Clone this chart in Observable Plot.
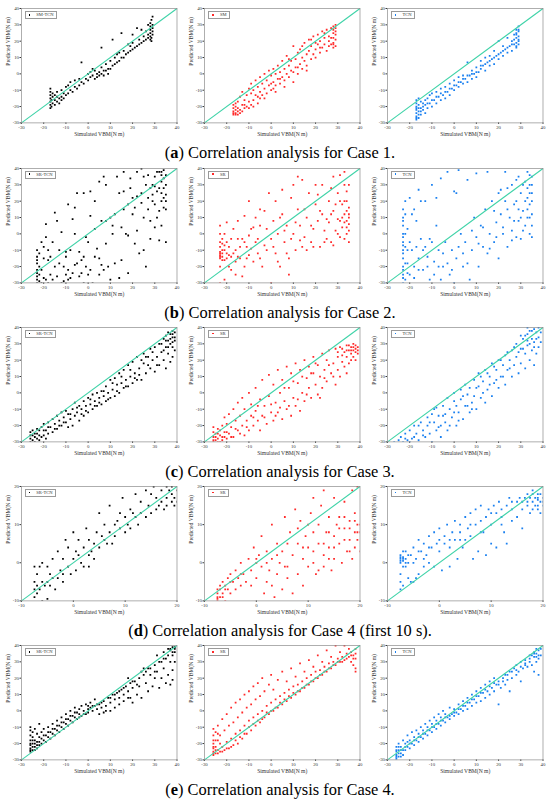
<!DOCTYPE html>
<html><head><meta charset="utf-8">
<script src="https://cdn.jsdelivr.net/npm/d3@7"></script>
<script src="https://cdn.jsdelivr.net/npm/@observablehq/plot@0.6"></script>
<style>
html,body{margin:0;padding:0;background:#fff;}
#root{position:relative;width:550px;height:803px;overflow:hidden;}
.panel{position:absolute;}
.legend{position:absolute;border:0.6px solid #9a9a9a;height:6px;font-size:4.6px;font-family:"Liberation Serif","Times New Roman","DejaVu Serif",serif;line-height:6px;padding:0 2px 0 3px;white-space:nowrap;background:#fff;color:#333;}
.legend i{display:inline-block;width:1.6px;height:1.6px;margin-right:6px;vertical-align:middle;position:relative;top:-0.5px;}
.cap{position:absolute;left:5px;width:550px;text-align:center;font-size:16.4px;font-family:"Liberation Serif","Times New Roman","DejaVu Serif",serif;color:#000;line-height:18px;}
</style></head>
<body><div id="root"></div>
<script>
// ---- axis settings ----
const domainMain = [-30, 40];
const domainD = [-10, 20];
const ticksMain = [-30, -20, -10, 0, 10, 20, 30, 40];
const ticksD = [-10, 0, 10, 20];
const xTitle = "Simulated VBM(N m)";
const yTitle = "Predicted VBM(N m)";
const captions = [
  ["a", "Correlation analysis for Case 1."],
  ["b", "Correlation analysis for Case 2."],
  ["c", "Correlation analysis for Case 3."],
  ["d", "Correlation analysis for Case 4 (first 10 s)."],
  ["e", "Correlation analysis for Case 4."]
];
const legendRows = [
  ["SM-TCN", "SM", "TCN"],
  ["SR-TCN", "SR", "TCN"],
  ["SR-TCN", "SR", "TCN"],
  ["SR-TCN", "SR", "TCN"],
  ["SR-TCN", "SR", "TCN"]
];

// ---- data: [simulated, predicted] ----
const a1 = [[-17,-21],[-17,-19],[-17,-17],[-17,-15],[-17,-13],[-17,-11],[-17,-9],[-16.5,-20],[-16.5,-16],[-16,-18],[-16,-14],[-16,-12],[-15,-19],[-15,-16],[-15,-13],[-14,-17],[-14,-11],[-13,-15],[-13,-18],[-12,-14],[-12,-10],[-11,-15],[-11,-12],[-10,-13],[-10,-8],[-9,-12],[-8,-10],[-8,-5],[-7,-11],[-6,-8],[-6,-4],[-5,-9],[-4,-7],[-3,-5],[-3,7],[-2,-6],[-1,-3],[0,-4],[0,0],[1,-2],[2,-1],[2,3],[3,-3],[4,0],[4,-2],[5,1],[5,-1],[6,0],[6,16],[6,4],[7,-1],[8,2],[8,6],[9,3],[10,3],[10,8],[11,21],[11,5],[12,6],[12,10],[13,7],[14,8],[14,13],[15,25],[15,10],[16,10],[16,14],[17,12],[18,13],[18,18],[19,14],[20,15],[20,19],[21,16],[22,17],[22,28],[23,18],[23,21],[24,19],[25,20],[25,23],[26,21],[26,26],[27,22],[27,24],[28,21],[28,23],[28,25],[28,27],[28,29],[28,31],[28.5,33],[28.5,20],[28.5,22],[29,24],[29,26],[29,28],[29,30],[29,35],[27,30],[24,27],[20,24],[19,17],[13,12],[9,0],[7,2],[3,2],[1,1],[-4,-3],[-9,-7],[-14,-14],[-12,-16]];
const a2 = [[-17,-25],[-17,-23],[-17,-21],[-17,-19],[-16,-24],[-16,-22],[-16,-20],[-16,-18],[-15,-25],[-15,-23],[-15,-17],[-14,-22],[-14,-14],[-13,-19],[-13,-11],[-12,-21],[-12,-16],[-11,-13],[-11,-20],[-10,-9],[-10,-17],[-9,-6],[-9,-12],[-9,-19],[-8,-10],[-8,-16],[-7,-4],[-7,-13],[-6,-8],[-6,-18],[-5,-2],[-5,-11],[-5,-15],[-4,-6],[-4,-13],[-3,0],[-3,-9],[-2,-4],[-2,-12],[-1,2],[-1,-7],[0,-1],[0,-10],[1,3],[1,-5],[1,-9],[2,0],[2,-7],[3,5],[3,-3],[4,1],[4,-6],[5,8],[5,-2],[6,3],[6,-4],[7,11],[7,0],[8,5],[8,-2],[9,8],[9,2],[10,17],[10,1],[11,9],[11,4],[12,13],[12,0],[13,15],[13,6],[14,10],[14,3],[15,19],[15,8],[16,12],[16,5],[17,21],[17,14],[18,9],[18,17],[19,23],[19,12],[20,15],[20,10],[21,24],[21,18],[22,13],[22,20],[23,26],[23,16],[24,22],[24,18],[25,27],[25,14],[26,23],[26,20],[27,28],[27,18],[28,16],[28,19],[28,22],[28,25],[28,27],[28,29],[29,17],[29,21],[29,24],[29,28],[29,30],[-17,-24],[-16,-25],[-15,-21],[-14,-24],[-13,-23],[-12,-19],[-10,-21],[-8,-20],[-6,-14],[-3,-15],[0,-6],[2,-11],[4,-3],[6,-8],[8,9],[10,-5],[12,4],[14,17],[16,2],[18,21],[20,19],[22,16],[24,25],[26,17],[27,22],[28,18],[29,26]];
const a3 = [[-17,-28],[-17,-26],[-17,-24],[-17,-22],[-17,-20],[-17,-18],[-17,-16],[-16,-27],[-16,-23],[-16,-19],[-16,-15],[-15,-25],[-15,-21],[-15,-17],[-14,-22],[-14,-18],[-13,-24],[-13,-19],[-12,-21],[-12,-15],[-11,-18],[-11,-13],[-10,-20],[-10,-12],[-9,-16],[-8,-18],[-8,-11],[-7,-14],[-6,-16],[-6,-9],[-5,-13],[-4,-15],[-4,-8],[-3,-11],[-2,-13],[-2,-6],[-1,-9],[0,-10],[0,-4],[1,-7],[2,-8],[2,-2],[3,-5],[4,-6],[4,-1],[5,-3],[6,-5],[6,7],[7,-1],[8,-3],[8,2],[9,0],[10,-2],[10,4],[11,1],[12,3],[12,8],[13,5],[14,2],[14,10],[15,7],[16,5],[16,11],[17,9],[18,6],[18,14],[19,11],[20,9],[20,20],[21,13],[22,11],[22,17],[23,15],[24,13],[24,22],[25,17],[26,14],[26,20],[27,18],[27,24],[28,16],[28,19],[28,22],[28,25],[28,27],[29,18],[29,21],[29,23],[29,26],[29,29],[-17,-27],[-17,-21],[-16,-25],[-16,-21],[-15,-23],[-14,-20],[-13,-16],[-12,-18],[-10,-16],[-8,-14],[-6,-12],[-4,-11],[-2,-9],[0,-7],[2,-5],[4,-3],[6,-1],[8,0],[10,1],[12,5],[14,6],[16,8],[18,10],[20,12],[22,14],[24,16],[26,18],[27,21],[28,17],[28,24],[29,20],[29,27]];
const b1 = [[-23,-30],[-23,-26],[-23,-22],[-23,-18],[-23,-14],[-23,-10],[-22,-20],[-20,-27],[-19,6],[-19,-2],[-18,-10],[-17,-25],[-16,-5],[-15,13],[-14,8],[-13,-18],[-12,-30],[-11,-20],[-10,-11],[-9,18],[-9,-28],[-8,-10],[-7,9],[-7,-24],[-6,16],[-5,-18],[-4,-11],[-3,-24],[-2,25],[-2,-14],[-1,-2],[0,-25],[1,26],[1,11],[2,-30],[3,3],[4,-9],[5,32],[5,-15],[6,8],[7,35],[7,-22],[8,8],[9,-20],[10,10],[11,5],[12,-18],[13,35],[14,25],[15,-16],[15,4],[16,15],[17,0],[18,-24],[19,34],[20,12],[21,-6],[22,38],[22,23],[23,-12],[24,25],[25,10],[26,-20],[27,36],[27,15],[28,-3],[29,30],[29,20],[30,4],[31,38],[31,26],[32,14],[32,-4],[33,38],[33,32],[33,20],[33,5],[34,34],[34,28],[34,22],[35,30],[35,15],[35,-5],[35,36],[30,35],[28,28],[25,35],[20,22],[18,18],[12,12],[8,30],[3,20],[-5,25],[-12,1],[-18,-30],[-21,-5],[-22,-25],[-20,-15],[-10,-14],[-15,-20],[-2,-30],[5,-25],[10,-28],[0,-5],[-6,0],[16,38],[24,40],[-23,-28],[-23,-24],[-23,-16],[-22,-12],[-22,-29],[-21,-22],[-21,-30],[-20,-8],[-19,-28],[-18,-16],[-16,-28],[-14,-26],[-13,-10],[-11,-29],[-9,-22],[-8,-27],[-6,-19],[-4,-26],[-3,-16],[-1,-20],[1,-22],[3,-14],[6,-19],[8,-6],[11,0],[14,-27],[16,26],[19,28],[21,16],[24,19],[26,30],[27,22],[29,24],[30,18],[31,10],[32,28],[33,25],[33,36],[34,16],[34,39],[35,24],[35,20],[32,38],[30,29],[28,8],[25,-10],[22,2],[18,-1],[-17,-14],[-10,-25]];
const b2 = [[-23,-30],[-23,-20],[-23,-15],[-23,-12],[-23,-8],[-23,-5],[-23,0],[-23,5],[-22,-14],[-22,-10],[-22,-3],[-21,-16],[-21,-28],[-21,-7],[-20,-12],[-20,7],[-19,-20],[-18,-3],[-18,-14],[-17,3],[-16,-10],[-16,-25],[-15,8],[-14,-15],[-13,-3],[-12,11],[-12,-20],[-11,-8],[-10,20],[-10,-13],[-9,3],[-8,-17],[-7,10],[-7,-5],[-6,-12],[-5,5],[-4,-20],[-3,14],[-2,-10],[-1,25],[0,-3],[0,-30],[1,8],[2,20],[2,-12],[3,0],[4,-20],[5,12],[5,27],[6,-5],[7,5],[8,-15],[9,22],[10,0],[11,-10],[12,15],[13,5],[14,33],[14,-8],[15,-2],[16,10],[17,25],[18,-5],[19,3],[20,18],[21,8],[22,-8],[23,30],[23,12],[24,2],[25,-3],[26,20],[26,7],[27,-5],[28,35],[28,14],[29,2],[30,25],[30,9],[31,-2],[32,18],[32,4],[33,38],[33,30],[33,12],[33,-3],[34,20],[34,8],[34,0],[35,16],[35,10],[35,6],[35,-5],[35,30],[31,36],[27,28],[20,30],[12,35],[8,-25],[-5,-15],[-15,-14],[-20,-15],[-19,-13],[-23,-14],[-23,-11],[-23,-13],[-22,-12],[-22,-16],[-22,-6],[-21,-10],[-21,0],[-20,-5],[-19,-8],[-18,-22],[-17,-12],[-16,-17],[-15,-3],[-14,-8],[-13,-26],[-12,-5],[-11,-15],[-10,-1],[-9,-9],[-8,4],[-6,-3],[-5,15],[-3,-7],[-2,3],[1,-8],[3,-17],[4,10],[6,2],[7,-12],[9,-3],[10,30],[11,7],[13,-4],[15,15],[16,-10],[18,5],[19,-8],[21,24],[22,14],[24,-5],[25,9],[27,12],[28,-7],[29,18],[30,0],[31,20],[32,10],[33,7],[34,14],[34,4],[35,12],[35,2],[34,26],[33,20],[31,8]];
const b3 = [[-23,-30],[-23,-25],[-23,-20],[-23,-15],[-23,-10],[-23,-5],[-23,0],[-23,5],[-23,10],[-23,15],[-22,-28],[-22,-8],[-22,12],[-22,20],[-21,-18],[-21,3],[-20,22],[-20,-25],[-19,-10],[-18,15],[-18,-20],[-17,8],[-16,27],[-16,-15],[-15,-3],[-14,-22],[-13,20],[-13,-8],[-12,-14],[-11,-28],[-10,30],[-10,-5],[-9,-17],[-8,5],[-7,-10],[-6,34],[-6,-28],[-5,-20],[-4,-5],[-3,38],[-2,-25],[-1,-10],[0,26],[0,-30],[1,-15],[2,39],[3,0],[4,-20],[5,-5],[6,33],[7,-28],[8,-10],[9,10],[10,37],[10,-2],[11,-20],[12,5],[13,-8],[14,15],[15,38],[15,-12],[16,0],[17,20],[18,-5],[19,7],[20,25],[20,-15],[21,12],[22,0],[23,38],[23,20],[24,-8],[25,10],[26,30],[26,2],[27,18],[28,-2],[29,35],[29,8],[30,25],[30,-3],[31,14],[32,32],[32,5],[33,38],[33,22],[33,10],[34,30],[34,18],[34,0],[35,35],[35,25],[35,12],[35,5],[28,33],[24,28],[-23,-27],[-23,-22],[-23,-12],[-23,-7],[-23,-2],[-23,8],[-22,-18],[-22,0],[-21,-24],[-21,-10],[-20,-5],[-19,12],[-18,-27],[-17,-8],[-16,-22],[-15,20],[-14,-10],[-12,-20],[-11,-3],[-9,-25],[-8,22],[-7,-20],[-5,-12],[-3,-18],[-1,-22],[1,25],[2,-8],[4,-12],[6,-18],[8,2],[11,-6],[13,4],[16,-9],[18,14],[19,-2],[21,27],[22,4],[24,15],[26,-4],[27,8],[28,20],[29,15],[30,10],[31,30],[31,2],[32,20],[33,15],[33,28],[34,25],[34,10],[35,20],[35,30],[35,-2],[34,36]];
const c1 = [[-26,-30],[-26,-28],[-26,-24],[-25,-29],[-25,-26],[-24,-30],[-24,-27],[-23,-28],[-23,-25],[-22,-29],[-22,-23],[-21,-27],[-21,-21],[-20,-26],[-20,-19],[-19,-28],[-19,-23],[-18,-25],[-18,-18],[-17,-21],[-16,-24],[-16,-16],[-15,-19],[-14,-22],[-14,-14],[-13,-17],[-12,-20],[-12,-12],[-11,-15],[-10,-18],[-10,-11],[-9,-21],[-9,-13],[-8,-16],[-7,-10],[-7,-20],[-6,-6],[-6,-14],[-5,-12],[-4,-17],[-4,-8],[-3,-10],[-2,-14],[-2,-5],[-1,-8],[0,-12],[0,-3],[1,-7],[2,-10],[2,-1],[3,-5],[4,-8],[4,0],[5,-3],[6,-7],[6,1],[7,-2],[8,-5],[8,4],[9,0],[10,-3],[10,8],[11,2],[12,-2],[12,9],[13,5],[14,0],[14,12],[15,6],[16,3],[16,14],[17,8],[18,4],[18,17],[19,10],[20,6],[20,19],[21,12],[22,8],[22,22],[23,15],[24,8],[25,24],[25,18],[26,12],[27,22],[28,15],[28,27],[29,20],[30,13],[30,28],[31,22],[32,17],[32,30],[33,25],[34,20],[34,33],[35,28],[35,15],[36,32],[36,24],[37,36],[37,30],[37,19],[38,38],[38,34],[38,28],[38,22],[39,37],[39,32],[39,26],[36,37],[35,35],[-26,-26],[-25,-23],[-24,-25],[-23,-22],[-22,-26],[-20,-23],[-18,-21],[-15,-22],[-13,-20],[-11,-18],[-8,-13],[-5,-9],[-3,-13],[-1,-11],[1,-4],[3,-8],[5,-6],[7,1],[9,-4],[11,6],[13,1],[15,10],[17,4],[19,14],[21,9],[23,11],[24,20],[26,22],[27,17],[29,25],[31,17],[33,30],[34,26],[35,32],[36,28],[37,33],[38,31],[38,36],[39,34]];
const c2 = [[-26,-30],[-26,-27],[-26,-24],[-26,-21],[-25,-29],[-25,-25],[-24,-28],[-24,-22],[-23,-30],[-23,-26],[-22,-20],[-22,-27],[-21,-24],[-21,-15],[-20,-28],[-20,-19],[-19,-13],[-19,-25],[-18,-21],[-17,-10],[-17,-27],[-16,-17],[-15,-6],[-15,-23],[-14,-14],[-13,-3],[-13,-20],[-12,-26],[-12,-10],[-11,-17],[-10,0],[-10,-23],[-9,-7],[-9,-14],[-8,-20],[-7,3],[-7,-11],[-6,-17],[-5,-4],[-5,-23],[-4,8],[-4,-14],[-3,-8],[-2,-19],[-1,11],[-1,-2],[0,-12],[1,-17],[1,5],[2,-6],[3,14],[3,-12],[4,0],[5,-16],[5,8],[6,-5],[7,16],[7,-10],[8,3],[9,-14],[9,12],[10,-3],[11,18],[11,-8],[12,6],[13,-11],[13,14],[14,0],[15,20],[15,-5],[16,9],[17,3],[17,16],[18,-3],[19,22],[19,12],[20,5],[21,17],[21,-1],[22,10],[23,24],[23,3],[24,14],[25,20],[25,7],[26,26],[27,12],[28,18],[29,27],[29,5],[30,22],[30,14],[31,28],[31,10],[32,19],[33,25],[33,16],[34,29],[34,22],[35,26],[35,18],[36,28],[36,24],[36,20],[37,30],[37,26],[37,22],[38,29],[38,25],[38,20],[39,28],[39,24],[34,12],[32,27],[-26,-29],[-25,-27],[-24,-30],[-24,-25],[-23,-23],[-22,-29],[-21,-27],[-20,-24],[-18,-27],[-16,-22],[-14,-25],[-11,-21],[-8,-15],[-6,-8],[-3,-15],[0,-7],[2,-14],[4,-9],[6,3],[8,-8],[10,7],[12,-4],[14,10],[16,-1],[18,12],[20,18],[22,-3],[24,9],[26,17],[28,10],[30,25],[32,23],[34,26],[35,29],[36,26],[37,28],[38,27],[39,26]];
const c3 = [[-27,-30],[-25,-29],[-24,-27],[-23,-30],[-22,-25],[-21,-29],[-20,-23],[-19,-28],[-18,-20],[-17,-25],[-16,-29],[-15,-18],[-14,-23],[-13,-27],[-12,-15],[-12,-20],[-11,-25],[-10,-30],[-10,-13],[-9,-18],[-8,-23],[-8,-9],[-7,-14],[-6,-20],[-6,-27],[-5,-8],[-4,-13],[-4,-18],[-3,-3],[-3,-23],[-2,-10],[-1,-15],[0,-5],[0,0],[1,-20],[1,-8],[2,-12],[3,2],[3,-4],[4,-16],[5,-8],[5,5],[6,-1],[7,-12],[7,3],[8,-6],[9,8],[9,-2],[10,-10],[11,4],[11,12],[12,-3],[13,7],[14,-6],[14,14],[15,2],[16,10],[17,-2],[17,18],[18,6],[19,14],[20,3],[20,20],[21,10],[22,17],[23,5],[23,23],[24,14],[25,20],[26,10],[26,26],[27,17],[28,30],[28,22],[29,12],[30,27],[30,18],[31,33],[32,24],[32,15],[33,36],[33,29],[34,20],[34,38],[35,33],[35,26],[36,39],[36,31],[36,17],[37,37],[37,24],[38,40],[38,34],[38,28],[39,37],[39,31],[33,40],[30,35],[37,33],[36,28],[35,38],[34,30],[33,32],[32,35],[31,27],[29,25],[27,28],[25,15],[24,25],[22,10],[21,20],[19,8],[18,16],[16,5],[15,12],[13,0],[12,10],[10,3],[8,-10],[6,-8],[4,-2],[2,-17],[0,-12],[-2,-20],[-5,-14],[-7,-21],[-9,-10],[-11,-18],[-14,-26],[-16,-20],[-18,-27],[-20,-30],[-22,-28]];
const d1 = [[-7.5,-9],[-7.5,-7],[-7.5,-5],[-7.5,-1],[-7,-8],[-7,-6],[-7,-3],[-6.5,-7],[-6.5,-1],[-6,-10],[-6,-5],[-6,0],[-5.5,-6],[-5,-9.5],[-5,-5],[-5,-1],[-4.5,-3],[-4,-4],[-4,1],[-3.5,-7],[-3,-4],[-3,3],[-2.5,-2],[-2,-5],[-2,1],[-1.5,6],[-1,-1],[-1,4],[-0.5,-3],[0,1],[0,8],[0.5,-2],[0.5,3],[1,2],[1,6],[1.5,0],[2,4],[2,-1],[2.5,9],[3,2],[3,6],[3.5,3],[4,5],[4,1],[4.5,8],[5,13],[5,4],[5.5,7],[6,6],[6,10],[6.5,5],[7,15],[7,8],[7.5,5],[8,10],[8,7],[9,9],[9,13],[9.5,17],[10,8],[10,12],[10.5,10],[11,14],[11,9],[12,18],[12,12],[12.5,10],[13,16],[13,13],[14,12],[14,19],[14.5,15],[15,13],[15,18],[15.5,20],[16,14],[16,17],[16.5,15],[17,19],[17,16],[17.5,14],[18,20],[18,17],[18,15],[18.5,19],[19,16],[19,18],[19,20],[19.5,15],[19.5,17],[20,19],[20,16],[11.5,13],[8.5,11],[3,-1],[-2,-3],[-4.5,-6]];
const d2 = [[-7.5,-10],[-7.5,-9],[-7.5,-8],[-7.5,-7],[-7,-6],[-7,-9],[-6.5,-5],[-6.5,-8],[-6,-6],[-6,-10],[-5.5,-4],[-5.5,-7],[-5,-3],[-5,-8],[-4.5,-5],[-4,-2],[-4,-7],[-3.5,-4],[-3,0],[-3,-6],[-2.5,-3],[-2,-5],[-1.5,1],[-1,-2],[-1,-6],[-0.5,4],[0,0],[0,-4],[0.5,2],[1,7],[1,-1],[1.5,-8],[2,3],[2,-5],[2.5,-2],[3,10],[3,1],[3.5,-9],[4,-3],[4,5],[4.5,0],[5,3],[5,-7],[5.5,12],[5.5,-1],[6,5],[6,-4],[6.5,8],[7,-8],[7,2],[7.5,14],[8,5],[8,-3],[8.5,11],[9,1],[9,-6],[9.5,7],[10,-1],[10,4],[10.5,13],[11,0],[11,8],[11.5,-3],[12,5],[12,10],[12.5,15],[13,2],[13,-1],[13.5,8],[14,12],[14,4],[14.5,-2],[15,17],[15,7],[15,1],[15.5,10],[16,5],[16,12],[16.5,0],[17,9],[17,16],[17.5,3],[18,11],[18,6],[18.5,19],[18.5,1],[19,8],[19,13],[19,4],[19.5,10],[19.5,6],[19.5,20],[20,8],[20,3],[16,21],[13,19],[11,17],[-7.5,-9.5],[-7,-7],[-6.5,-9],[-6,-7],[-5,-5],[-3,-3],[0,1],[2,0],[3,-6],[4,2],[6,-1],[8,9],[9,4],[10,10],[11,3],[12,-2],[13,5],[14,8],[15,4],[16,9],[17,6],[18,3],[18,9],[19,11],[19.5,8],[20,10],[17,12],[14,1]];
const d3 = [[-7.5,-7],[-7.5,-5],[-7.5,-3],[-7.5,0],[-7.5,1],[-7.5,2],[-7,-6],[-7,0.5],[-7,1.5],[-7,3],[-6.5,1],[-6.5,-1],[-6.5,3],[-6,0],[-6,-4],[-5.5,2],[-5.5,-5],[-5,4],[-5,-5],[-4.5,1],[-4.5,-4],[-4,6],[-4,-3],[-3.5,3],[-3,5],[-3,-1],[-2.5,2],[-2,7],[-2,0],[-1.5,4],[-1,8],[-1,-1],[-0.5,5],[0,3],[0,9],[0.5,-2],[1,7],[1,5],[1.5,10],[2,4],[2,-1],[2.5,8],[3,6],[3,11],[3.5,1],[4,8],[4,10],[4.5,4],[5,12],[5,6],[5.5,9],[6,7],[6,13],[6.5,1],[7,10],[7,14],[7.5,3],[8,11],[8,15],[8.5,8],[9,12],[9,2],[9.5,14],[10,10],[10,5],[10.5,15],[11,13],[11,4],[11.5,16],[12,12],[12,14],[12.5,8],[13,15],[13,5],[13.5,17],[14,14],[14,11],[15,16],[15,12],[15.5,17],[16,14],[16,9],[16.5,17],[17,15],[17,18],[17.5,13],[18,16],[18,19],[18.5,15],[19,14],[19,17],[19,18],[19.5,16],[19.5,13],[20,17],[20,15],[-7.5,0.5],[-7.5,1.5],[-7,1],[-7,-1],[-6.5,0],[-6,2],[-5,0],[-4,3],[-3,1],[-2,4],[0,6],[2,6],[4,6],[6,10],[8,8],[10,13],[12,10],[14,16],[16,16],[17,16],[18,14],[18.5,17],[19,15],[19.5,18],[20,16],[19,16.5],[18,18],[17.5,17]];
const e1 = [[-26,-25],[-26,-23],[-26,-21],[-26,-18],[-26,-15],[-26,-12],[-26,-10],[-25,-24],[-25,-20],[-25,-16],[-25,-13],[-24,-22],[-24,-18],[-24,-11],[-23,-23],[-23,-19],[-23,-14],[-22,-21],[-22,-16],[-22,-8],[-21,-20],[-21,-13],[-20,-18],[-20,-11],[-19,-19],[-19,-15],[-18,-16],[-18,-10],[-17,-17],[-17,-13],[-16,-14],[-16,-8],[-15,-15],[-15,-11],[-14,-12],[-14,-6],[-13,-13],[-13,-9],[-12,-10],[-12,-4],[-11,-11],[-11,-7],[-10,-8],[-10,-2],[-9,-9],[-9,-5],[-8,-6],[-8,0],[-7,-7],[-7,-3],[-6,-4],[-6,2],[-5,-5],[-5,-1],[-4,-2],[-4,1],[-3,-3],[-3,3],[-2,0],[-1,-2],[-1,4],[0,1],[0,-1],[1,2],[1,5],[2,0],[3,3],[3,7],[4,1],[5,4],[5,-2],[6,2],[7,6],[7,-1],[8,3],[9,8],[10,5],[10,0],[11,10],[12,7],[12,2],[13,11],[14,8],[14,4],[15,13],[16,10],[16,6],[17,15],[18,12],[18,20],[19,8],[19,17],[20,14],[20,5],[21,18],[22,10],[23,20],[23,15],[24,8],[25,22],[25,26],[26,17],[27,26],[27,12],[28,22],[29,15],[30,28],[30,20],[31,34],[31,24],[32,14],[33,30],[33,20],[34,36],[34,26],[35,17],[35,32],[36,38],[36,22],[37,37],[37,30],[37,16],[38,39],[38,34],[38,25],[38,19],[39,38],[39,36],[39,30],[-26,-24],[-26,-20],[-25,-22],[-25,-18],[-24,-24],[-24,-20],[-23,-21],[-22,-19],[-21,-17],[-20,-15],[-18,-13],[-16,-11],[-14,-9],[-12,-7],[-10,-5],[-8,-3],[-6,-1],[-4,-4],[-2,-2],[0,3],[2,3],[4,4],[6,5],[8,0],[10,8],[12,10],[14,12],[16,14],[18,8],[20,18],[22,16],[24,24],[26,24],[28,26],[30,24],[32,30],[34,32],[36,34],[37,38],[38,36],[39,39]];
const e2 = [[-26,-27],[-26,-25],[-26,-23],[-26,-20],[-26,-15],[-26,-11],[-25,-26],[-25,-22],[-25,-13],[-24,-24],[-24,-18],[-24,-9],[-23,-25],[-23,-15],[-22,-22],[-22,-5],[-21,-24],[-21,-12],[-20,-19],[-20,-2],[-19,-23],[-19,-9],[-18,-17],[-18,2],[-17,-21],[-17,-7],[-16,-14],[-16,5],[-15,-20],[-15,-4],[-14,-12],[-14,7],[-13,-17],[-13,-1],[-12,-9],[-12,10],[-11,-14],[-11,2],[-10,-6],[-10,12],[-9,-12],[-9,4],[-8,-4],[-8,15],[-7,-9],[-7,7],[-6,-2],[-6,17],[-5,-7],[-5,9],[-4,0],[-4,20],[-3,-4],[-3,12],[-2,3],[-1,-2],[-1,16],[0,5],[0,22],[1,0],[1,13],[2,7],[3,2],[3,19],[4,9],[5,4],[5,24],[6,11],[7,6],[7,18],[8,13],[9,8],[9,26],[10,15],[11,10],[11,21],[12,16],[13,12],[13,29],[14,18],[15,14],[15,24],[16,20],[17,16],[17,31],[18,22],[19,18],[19,27],[20,24],[21,20],[21,34],[22,25],[23,22],[23,30],[24,27],[25,24],[25,37],[26,29],[27,26],[27,33],[28,30],[29,28],[29,40],[30,32],[31,30],[31,36],[32,33],[33,31],[33,40],[34,35],[35,33],[35,38],[36,36],[36,30],[37,34],[37,28],[38,38],[38,32],[38,26],[38,24],[-26,-26],[-26,-22],[-26,-18],[-25,-24],[-25,-18],[-24,-26],[-24,-14],[-23,-20],[-22,-25],[-20,-23],[-18,-22],[-16,-18],[-14,-16],[-12,-14],[-10,-10],[-8,-8],[-6,-6],[-4,-5],[-2,-1],[0,0],[2,2],[4,5],[6,7],[8,9],[10,11],[12,12],[14,14],[16,16],[18,18],[20,20],[22,22],[24,24],[26,26],[28,28],[30,30],[32,30],[34,32],[36,34],[37,32],[38,35]];
const e3 = [[-26,-30],[-26,-29],[-26,-27],[-26,-25],[-26,-22],[-25,-28],[-25,-24],[-25,-20],[-24,-26],[-24,-22],[-23,-27],[-23,-18],[-22,-24],[-22,-20],[-21,-22],[-21,-15],[-20,-23],[-20,-18],[-19,-20],[-19,-13],[-18,-21],[-18,-16],[-17,-18],[-17,-12],[-16,-19],[-16,-14],[-15,-16],[-15,-10],[-14,-17],[-14,-12],[-13,-14],[-13,-8],[-12,-15],[-12,-10],[-11,-12],[-11,-6],[-10,-13],[-10,-8],[-9,-10],[-9,-4],[-8,-11],[-8,-6],[-7,-8],[-7,-2],[-6,-9],[-6,-4],[-5,-6],[-5,0],[-4,-7],[-4,-2],[-3,-4],[-2,-5],[-2,2],[-1,-2],[0,-3],[0,1],[1,-1],[2,-2],[2,4],[3,1],[4,0],[4,6],[5,3],[6,1],[6,8],[7,5],[8,3],[8,10],[9,7],[10,5],[10,12],[11,9],[12,6],[12,14],[13,11],[14,8],[14,16],[15,12],[16,10],[16,18],[17,14],[18,12],[18,20],[19,16],[20,4],[20,18],[21,14],[22,20],[23,16],[23,22],[24,19],[25,12],[25,24],[26,20],[27,26],[28,22],[28,28],[29,24],[30,30],[30,18],[31,26],[32,31],[32,28],[33,27],[34,32],[34,30],[35,34],[35,28],[36,33],[36,36],[36,24],[37,35],[37,30],[37,38],[38,37],[38,32],[38,22],[39,38],[39,34],[-26,-28],[-26,-24],[-25,-26],[-25,-22],[-24,-28],[-24,-24],[-23,-24],[-22,-22],[-21,-19],[-20,-20],[-18,-18],[-16,-16],[-14,-14],[-12,-12],[-10,-10],[-8,-8],[-6,-6],[-4,-4],[-2,-3],[0,-1],[2,1],[4,3],[6,5],[8,7],[10,9],[12,11],[14,13],[16,15],[18,17],[20,16],[22,18],[24,22],[26,24],[28,25],[30,27],[32,29],[34,34],[36,35],[37,33],[38,34]];

const seriesColors = ["#000000", "#ff2a2a", "#1a80f0"];
const lineColor = "#3fd3a8";
const serif = '"Liberation Serif","Times New Roman","DejaVu Serif",serif';

const rowData = [[a1,a2,a3],[b1,b2,b3],[c1,c2,c3],[d1,d2,d3],[e1,e2,e3]];
const rowDomain = [domainMain, domainMain, domainMain, domainD, domainMain];
const rowTicks = [ticksMain, ticksMain, ticksMain, ticksD, ticksMain];

// layout
const frameLeft = [20.7, 204.3, 386.8];
const frameTop = [8.3, 167.6, 327, 486, 645.3];
const frameW = 155.5, frameH = 114.4;
const mL = 22, mR = 5, mT = 3, mB = 20;

const root = document.getElementById("root");

rowData.forEach((row, r) => {
  const dom = rowDomain[r];
  row.forEach((data, c) => {
    const chart = Plot.plot({
      width: frameW + mL + mR,
      height: frameH + mT + mB,
      marginLeft: mL, marginRight: mR, marginTop: mT, marginBottom: mB,
      style: {fontFamily: serif, fontSize: "4.8px", background: "transparent", color: "#333", overflow: "visible"},
      x: {domain: dom, ticks: rowTicks[r], tickSize: 1.5, tickPadding: 1, tickFormat: d => d < 0 ? "-" + Math.abs(d) : String(d), label: null},
      y: {domain: dom, ticks: rowTicks[r], tickSize: 1.5, tickPadding: 1, tickFormat: d => d < 0 ? "-" + Math.abs(d) : String(d), label: null},
      marks: [
        Plot.dot(data, {x: d => d[0], y: d => d[1], fill: seriesColors[c], r: 1.0, symbol: "square", clip: true}),
        Plot.link([dom], {x1: d => d[0], y1: d => d[0], x2: d => d[1], y2: d => d[1], stroke: lineColor, strokeWidth: 1.1}),
        Plot.frame({stroke: "#8c8c8c", strokeWidth: 0.7}),
        Plot.text([xTitle], {frameAnchor: "bottom", dy: 13.5, fontSize: 5.6, fill: "#333"}),
        Plot.text([yTitle], {frameAnchor: "left", dx: -13, rotate: -90, fontSize: 5.6, fill: "#333"})
      ]
    });
    chart.classList.add("panel");
    chart.style.left = (frameLeft[c] - mL) + "px";
    chart.style.top = (frameTop[r] - mT) + "px";
    root.appendChild(chart);

    const lg = document.createElement("div");
    lg.className = "legend";
    lg.style.left = (frameLeft[c] + 4) + "px";
    lg.style.top = (frameTop[r] + 3) + "px";
    const mk = document.createElement("i");
    mk.style.background = seriesColors[c];
    lg.appendChild(mk);
    lg.appendChild(document.createTextNode(legendRows[r][c]));
    root.appendChild(lg);
  });
  const cap = document.createElement("div");
  cap.className = "cap";
  cap.style.top = (frameTop[r] + 136) + "px";
  const b = document.createElement("b");
  b.textContent = captions[r][0];
  cap.appendChild(document.createTextNode("("));
  cap.appendChild(b);
  cap.appendChild(document.createTextNode(") " + captions[r][1]));
  root.appendChild(cap);
});
</script></body></html>
